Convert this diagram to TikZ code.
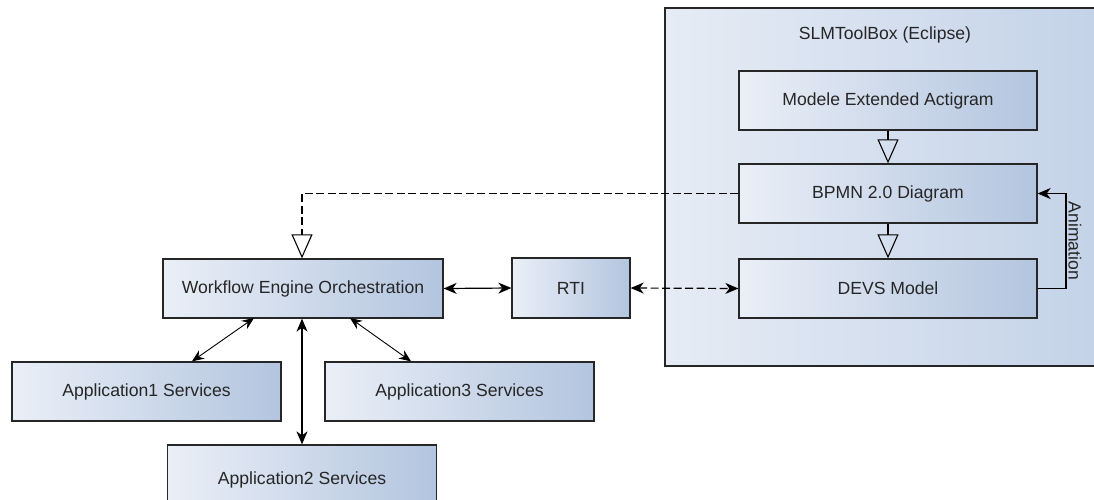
\documentclass[tikz,border=0pt]{standalone}
\usepackage{fontspec}
\setmainfont{Liberation Sans}
\usetikzlibrary{arrows.meta}
\definecolor{boxL}{HTML}{EAEFF7}
\definecolor{boxR}{HTML}{B3C5DF}
\definecolor{bigL}{HTML}{E6ECF5}
\definecolor{bigR}{HTML}{C3D2E8}
\definecolor{txt}{HTML}{262626}
\tikzset{
  box/.style={draw=black!85, line width=1.3pt, left color=boxL, right color=boxR,
    inner sep=0pt, text=txt, font=\fontsize{17.6}{20}\selectfont},
  bigbox/.style={draw=black!85, line width=1.3pt, shading angle=-60,
    left color=bigL, right color=bigR, inner sep=0pt},
  gen/.style={line width=1.1pt, -{Triangle[open, length=24pt, width=21pt, line width=1.1pt]}},
  dbl/.style={line width=1.2pt, {Stealth[length=13pt,width=11pt,inset=4pt]}-{Stealth[length=13pt,width=11pt,inset=4pt]}},
  thin/.style={line width=0.9pt, {Stealth[length=12pt,width=10pt,inset=4pt]}-{Stealth[length=12pt,width=10pt,inset=4pt]}},
  dsh/.style={line width=1.2pt, dash pattern=on 8pt off 3.5pt},
  lbl/.style={text=txt, font=\fontsize{17.6}{20}\selectfont, inner sep=0pt}
}
\begin{document}
\begin{tikzpicture}[x=1pt,y=-1pt]
\useasboundingbox (0,0) rectangle (1094,499);
\clip (0,0) rectangle (1094,499);
\fill[white] (0,0) rectangle (1094,499);
% big container
\path[bigbox] (665,8) rectangle (1110,366);
\node[lbl] (title) at (885,35) {SLMToolBox (Eclipse)};
% inner boxes
\node[box, minimum width=298pt, minimum height=59pt] (mea) at (888,100.5) {Modele Extended Actigram};
\node[box, minimum width=298pt, minimum height=59pt] (bpmn) at (888,193.5) {BPMN 2.0 Diagram};
\node[box, minimum width=298pt, minimum height=59pt] (devs) at (888,288.5) {DEVS Model};
% left side
\node[box, minimum width=280pt, minimum height=59pt] (wf) at (303,288.5) {Workflow Engine Orchestration};
\node[box, minimum width=118pt, minimum height=60pt] (rti) at (571,288) {RTI};
\node[box, minimum width=269pt, minimum height=59pt] (app1) at (146.5,391.5) {Application1 Services};
\node[box, minimum width=269pt, minimum height=59pt] (app3) at (459.5,391.5) {Application3 Services};
\node[box, minimum width=269pt, minimum height=70pt] (app2) at (302,480) {Application2 Services};
% generalisation arrows
\draw[gen] (mea.south) -- (bpmn.north);
\draw[gen] (bpmn.south) -- (devs.north);
% animation
\coordinate (anb) at (1066,193.5);
\coordinate (and) at (1066,288.5);
\draw[line width=1.2pt, -{Stealth[length=13pt,width=11pt,inset=4pt]}] (devs.east) -- (and) -- node[lbl, pos=0.5, xshift=9pt, rotate=-90] {Animation} (anb) -- (bpmn.east);
% dashed BPMN -> Workflow
\coordinate (bend) at (302,193.5);
\coordinate (tri) at ([yshift=24pt]wf.north -| bend);
\draw[dsh] (bpmn.west) -- (bend) -- (tri);
\draw[gen] (tri) -- (wf.north -| bend);
% Workflow <-> RTI
\draw[dbl] (wf.east) -- (rti.west);
% RTI <-> DEVS dashed
\draw[dbl, dash pattern=on 8pt off 3.5pt] (rti.east) -- (devs.west);
% workflow <-> applications
\draw[thin] (254,318) -- (app1.north -| 192,0);
\draw[thin] (350,318) -- (app3.north -| 411,0);
\draw[dbl] (wf.south -| 302,0) -- (app2.north -| 302,0);
\end{tikzpicture}
\end{document}
